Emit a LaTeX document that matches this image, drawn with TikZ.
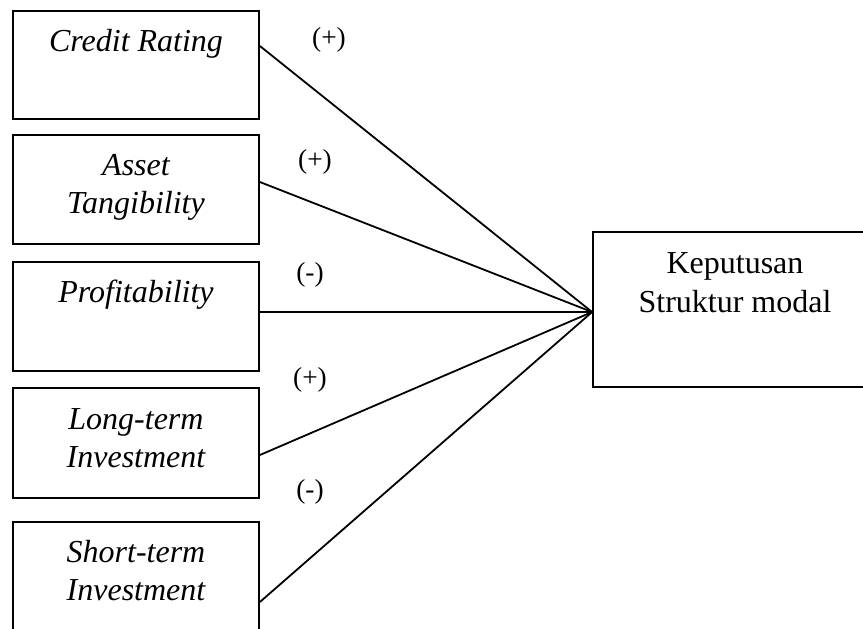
\documentclass[tikz,border=0pt]{standalone}
\usepackage{fontspec}
\setmainfont{Liberation Serif}
\begin{document}
\begin{tikzpicture}[x=0.5pt,y=-0.5pt,
  box/.style={draw, line width=0.9pt, rectangle, inner sep=0pt, minimum width=123pt},
  itxt/.style={anchor=base, inner sep=0pt, font=\fontsize{16}{19}\selectfont\itshape},
  rtxt/.style={anchor=base, inner sep=0pt, font=\fontsize{16}{19}\selectfont},
  sign/.style={inner sep=0pt, font=\fontsize{13.7}{16}\selectfont},
  link/.style={line width=0.9pt}]
\clip (0,0) rectangle (863,628);
\fill[white] (0,0) rectangle (863,628);
% boxes
\node[box, minimum height=54pt]   (cr) at (136,65) {};
\node[box, minimum height=54.5pt] (at) at (136,189.5) {};
\node[box, minimum height=54.5pt] (pr) at (136,316.5) {};
\node[box, minimum height=55pt]   (lt) at (136,443) {};
\node[box, minimum height=55pt]   (st) at (136,577) {};
\node[box, minimum width=142pt, minimum height=77.5pt] (kp) at (735,309.5) {};
% texts
\node[itxt] (t1) at (136,51) {Credit Rating};
\node[itxt] (t2a) at (136,175) {Asset};
\node[itxt] (t2b) at (136,213) {Tangibility};
\node[itxt] (t3) at (136,302) {Profitability};
\node[itxt] (t4a) at (136,429) {Long-term};
\node[itxt] (t4b) at (136,467) {Investment};
\node[itxt] (t5a) at (136,562) {Short-term};
\node[itxt] (t5b) at (136,600) {Investment};
\node[rtxt] (k1) at (735,273) {Keputusan};
\node[rtxt] (k2) at (735,312) {Struktur modal};
% hub
\coordinate (hub) at (kp.west |- 0,312);
% connectors
\draw[link] (cr.east |- 0,46) -- (hub);
\draw[link] (at.east |- 0,182) -- (hub);
\draw[link] (pr.east |- 0,312) -- (hub);
\draw[link] (lt.east |- 0,455) -- (hub);
\draw[link] (st.east |- 0,602) -- (hub);
% signs
\node[sign] (s1) at (329,40) {(+)};
\node[sign] (s2) at (315,162) {(+)};
\node[sign] (s3) at (310,275) {(-)};
\node[sign] (s4) at (310,380) {(+)};
\node[sign] (s5) at (310,492) {(-)};
\end{tikzpicture}
\end{document}
